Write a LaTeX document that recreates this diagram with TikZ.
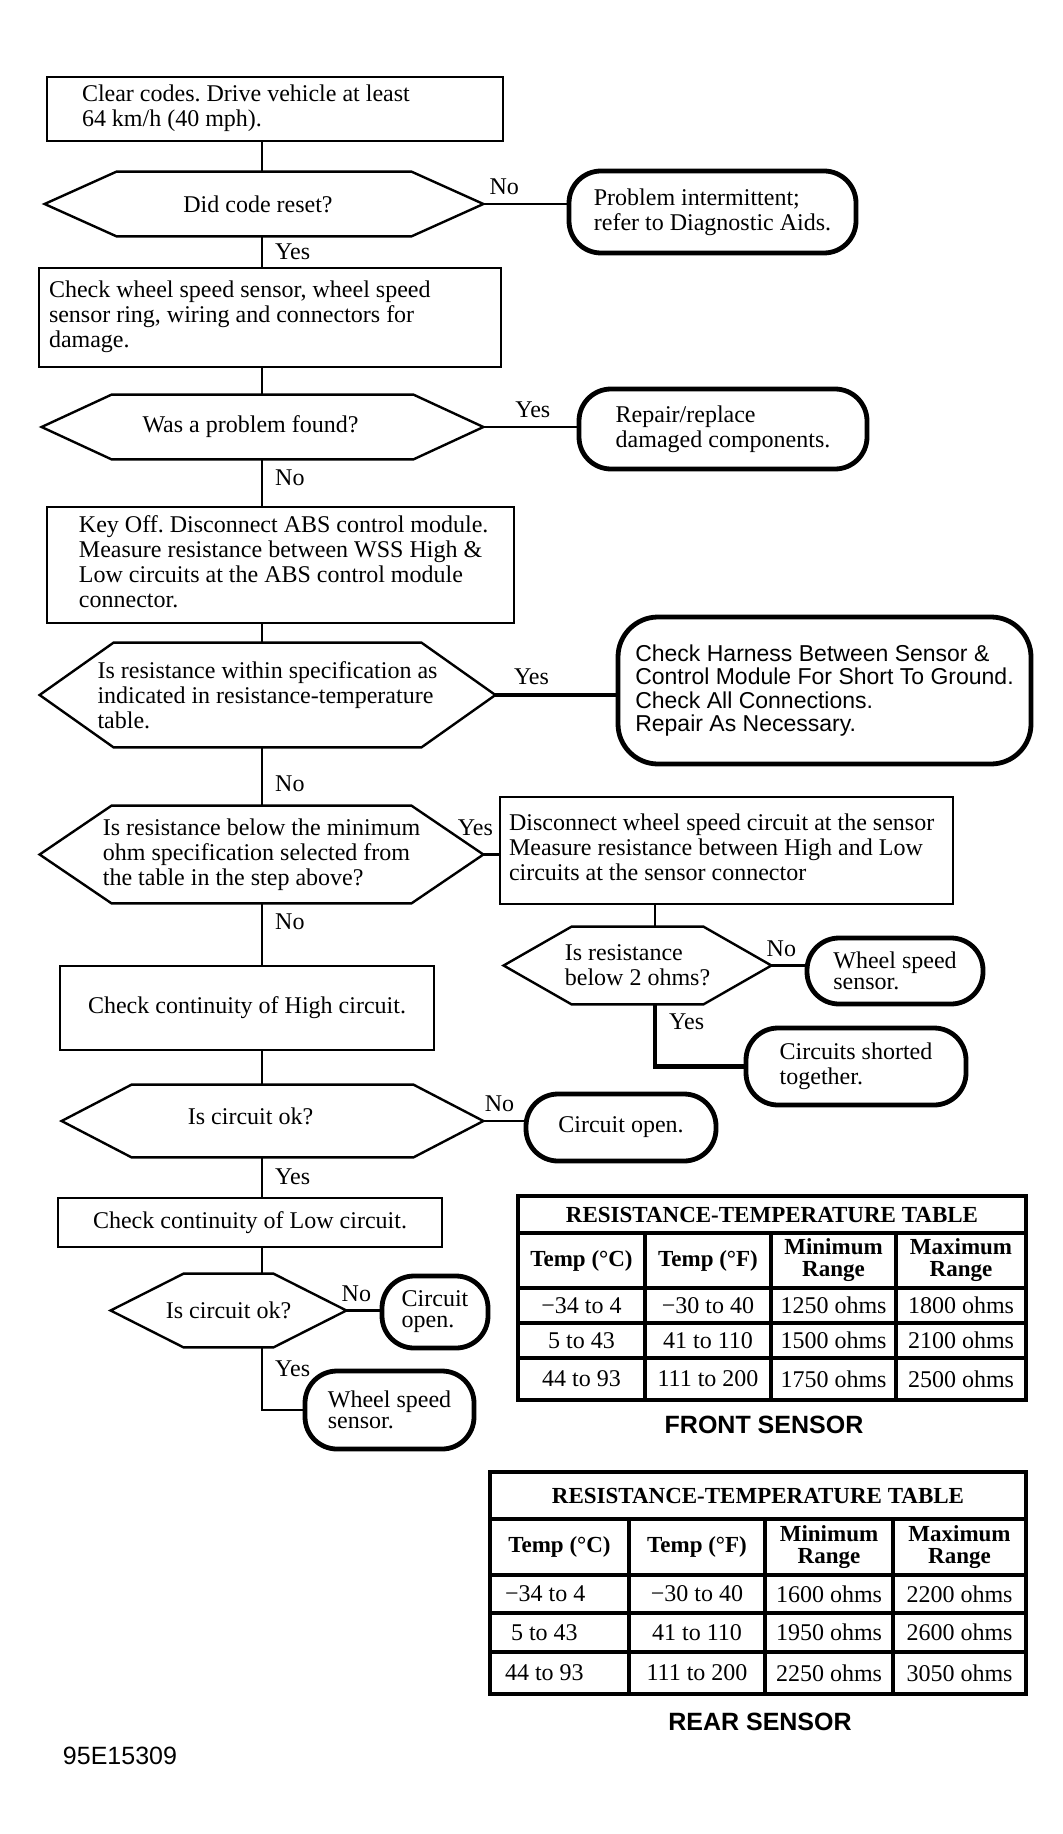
\documentclass[tikz,border=0pt]{standalone}
\usepackage{fontspec}
\setmainfont{Liberation Serif}
\setsansfont{Liberation Sans}
\frenchspacing
\newcommand{\flowfont}{\fontsize{12}{12.4}\selectfont}
\newcommand{\tightfont}{\fontsize{12}{10.5}\selectfont}
\newcommand{\boxlines}[3]{\makebox[#1][l]{\hspace*{#2}\begin{tabular}{@{}l@{}}#3\end{tabular}}}
\newcommand{\hexline}[2]{%
  \draw[hexedge] (#1.west) -- ([xshift=#2]#1.north west) -- ([xshift=-#2]#1.north east)
    -- (#1.east) -- ([xshift=-#2]#1.south east) -- ([xshift=#2]#1.south west) -- cycle;}
\tikzset{
  box/.style={draw, line width=1.2pt, inner xsep=3pt, inner ysep=0pt, font=\flowfont},
  decision/.style={inner sep=0pt, align=left, font=\flowfont},
  hexedge/.style={line width=1.2pt, line join=miter},
  term/.style={draw, line width=2.4pt, rounded corners=16pt, align=left, inner sep=0pt, font=\flowfont},
  link/.style={line width=1.2pt},
  heavy/.style={line width=2.2pt},
  lbl/.style={inner sep=1pt, font=\flowfont},
  tabline/.style={line width=1.6pt},
  tabtitle/.style={font=\bfseries\fontsize{11.5}{11.5}\selectfont},
  tabhead/.style={align=center, font=\bfseries\fontsize{11.5}{11}\selectfont},
  tabcell/.style={font=\flowfont},
  caption/.style={font=\sffamily\bfseries\fontsize{12.5}{12.5}\selectfont}
}

\begin{document}
\begin{tikzpicture}[x=0.5pt, y=-0.5pt]
\useasboundingbox (0,0) rectangle (1062,1834);

% main column
\node[box, minimum height=32pt] (clear) at (275,109) {\boxlines{222pt}{14.5pt}{Clear codes. Drive vehicle at least\\64 km/h (40 mph).}};
\node[decision, minimum width=219pt, minimum height=32pt] (reset) at (264,204) {Did code reset?\hspace*{6pt}};
\hexline{reset}{36pt}
\node[term, minimum width=143.5pt, minimum height=41pt] (intermit) at (712.5,212) {Problem intermittent;\\refer to Diagnostic Aids.};
\node[box, minimum height=49.5pt] (inspect) at (270,317.5) {\boxlines{225pt}{2pt}{Check wheel speed sensor, wheel speed\\sensor ring, wiring and connectors for\\damage.}};
\node[decision, minimum width=220.5pt, minimum height=32pt] (found) at (262.5,427) {Was a problem found?\hspace*{12pt}};
\hexline{found}{35pt}
\node[term, minimum width=144pt, minimum height=40pt] (repair) at (723,429) {Repair/replace\\damaged components.};
\node[box, minimum height=58pt] (measure) at (280.5,565) {\boxlines{227.5pt}{13pt}{Key Off. Disconnect ABS control module.\\Measure resistance between WSS High \&\\Low circuits at the ABS control module\\connector.}};
\node[decision, minimum width=227.5pt, minimum height=52pt] (within) at (267.5,695) {Is resistance within specification as\\indicated in resistance-temperature\\table.};
\hexline{within}{37pt}
\node[term, rounded corners=20pt, minimum width=206.5pt, minimum height=73.5pt, font=\sffamily\fontsize{11.5}{11.7}\selectfont] (harness) at (824.5,690.5) {Check Harness Between Sensor \&\\Control Module For Short To Ground.\\Check All Connections.\\Repair As Necessary.};
\node[decision, minimum width=221.5pt, minimum height=48.5pt] (below) at (261.5,854.5) {Is resistance below the minimum\\ohm specification selected from\\the table in the step above?};
\hexline{below}{36pt}
\node[box, minimum width=187pt, minimum height=42pt] (high) at (247,1008) {Check continuity of High circuit.};
\node[decision, minimum width=210.5pt, minimum height=36pt] (okhigh) at (272.5,1121) {\raisebox{5pt}{Is circuit ok?}\hspace*{22pt}};
\hexline{okhigh}{35pt}
\node[term, minimum width=95pt, minimum height=33.5pt] (openhigh) at (621,1127.5) {Circuit open.};
\node[box, minimum width=192pt, minimum height=24.5pt] (low) at (250,1222.5) {Check continuity of Low circuit.};
\node[decision, minimum width=117.5pt, minimum height=36.5pt] (oklow) at (228.5,1310.5) {Is circuit ok?};
\hexline{oklow}{36.5pt}
\node[term, minimum width=53pt, minimum height=36pt, font=\tightfont] (openlow) at (435,1312) {Circuit\\open.};
\node[term, minimum width=84.5pt, minimum height=39pt, font=\tightfont] (wsslow) at (389.5,1410) {Wheel speed\\sensor.};

% sensor branch
\node[box, minimum height=53.5pt] (disc) at (726.5,850.5) {\boxlines{220.5pt}{1.5pt}{Disconnect wheel speed circuit at the sensor\\Measure resistance between High and Low\\circuits at the sensor connector}};
\node[decision, minimum width=133.5pt, minimum height=38.5pt] (twohm) at (637.5,965.5) {Is resistance\\below 2 ohms?};
\hexline{twohm}{34pt}
\node[term, minimum width=88pt, minimum height=33pt, font=\tightfont] (wssup) at (895,971) {Wheel speed\\sensor.};
\node[term, minimum width=110pt, minimum height=38.5pt] (shorted) at (856,1066.5) {Circuits shorted\\together.};

% connectors
\coordinate (spine) at (262,0);
\coordinate (branch) at (655,0);
\draw[link] (clear.south -| spine) -- (reset.north -| spine);
\draw[link] (reset.east) -- node[lbl, above=3pt, pos=.25] (n1) {No} (reset.east -| intermit.west);
\draw[link] (reset.south -| spine) -- node[lbl, right=5pt] (y1) {Yes} (inspect.north -| spine);
\draw[link] (inspect.south -| spine) -- (found.north -| spine);
\draw[link] (found.east) -- node[lbl, above=3pt, pos=.53] (y2) {Yes} (found.east -| repair.west);
\draw[link] (found.south -| spine) -- node[lbl, right=5pt, pos=.4] (n2) {No} (measure.north -| spine);
\draw[link] (measure.south -| spine) -- (within.north -| spine);
\draw[heavy] (within.east) -- node[lbl, above=3pt, pos=.3] (y3) {Yes} (within.east -| harness.west);
\draw[link] (within.south -| spine) -- node[lbl, right=5pt, pos=.62] (n3) {No} (below.north -| spine);
\draw[link] (below.east) -- node[lbl, above=8pt, pos=0, xshift=-4pt] (y4) {Yes} (below.east -| disc.west);
\draw[link] (below.south -| spine) -- node[lbl, right=5pt, pos=.3] (n4) {No} (high.north -| spine);
\draw[link] (high.south -| spine) -- (okhigh.north -| spine);
\draw[link] (okhigh.east) -- node[lbl, above=3pt, pos=.4] (n5) {No} (okhigh.east -| openhigh.west);
\draw[link] (okhigh.south -| spine) -- node[lbl, right=5pt] (y5) {Yes} (low.north -| spine);
\draw[link] (low.south -| spine) -- (oklow.north -| spine);
\draw[link] (oklow.east) -- node[lbl, above=3pt, pos=.3] (n6) {No} (oklow.east -| openlow.west);
\draw[link] (oklow.south -| spine) |- node[lbl, right=5pt, pos=.17] (y6) {Yes} (wsslow.west);
\draw[link] (disc.south -| branch) -- (twohm.north -| branch);
\draw[link] (twohm.east) -- node[lbl, above=3pt, pos=.3] (n7) {No} (twohm.east -| wssup.west);
\draw[heavy] (twohm.south -| branch) |- node[lbl, right=5pt, pos=.14] (y7) {Yes} (shorted.west);

% front sensor table
\draw[tabline] (518,1196) rectangle (1026,1400);
\foreach \yy in {1233,1288,1323,1358} \draw[tabline] (518,\yy) -- (1026,\yy);
\foreach \xx in {645,771,896} \draw[tabline] (\xx,1233) -- (\xx,1400);
\node[tabtitle] (ftitle) at (772,1214.5) {RESISTANCE-TEMPERATURE TABLE};
\foreach \xx/\hd [count=\i] in {581.5/Temp (°C), 708/Temp (°F), 833.5/{Minimum\\Range}, 961/{Maximum\\Range}}
  \node[tabhead] (fh\i) at (\xx,1260.5) {\hd};
\foreach \xx/\a/\b/\c [count=\i] in {581.5/−34 to 4/5 to 43/44 to 93, 708/−30 to 40/41 to 110/111 to 200, 833.5/1250 ohms/1500 ohms/1750 ohms, 961/1800 ohms/2100 ohms/2500 ohms}{
  \node[tabcell] (fa\i) at (\xx,1305.5) {\a};
  \node[tabcell] (fb\i) at (\xx,1340.5) {\b};
  \node[tabcell] (fc\i) at (\xx,1379) {\c};
}
\node[caption] (front) at (764,1425) {FRONT SENSOR};

% rear sensor table
\draw[tabline] (490,1472) rectangle (1026,1694);
\foreach \yy in {1519,1575,1613,1652} \draw[tabline] (490,\yy) -- (1026,\yy);
\foreach \xx in {629,765,893} \draw[tabline] (\xx,1519) -- (\xx,1694);
\node[tabtitle] (rtitle) at (758,1495.5) {RESISTANCE-TEMPERATURE TABLE};
\foreach \xx/\hd [count=\i] in {559.5/Temp (°C), 697/Temp (°F), 829/{Minimum\\Range}, 959.5/{Maximum\\Range}}
  \node[tabhead] (rh\i) at (\xx,1547) {\hd};
\node[tabcell, anchor=west] (ra0) at (498,1594) {−34 to 4};
\node[tabcell, anchor=west] (rb0) at (504,1632.5) {5 to 43};
\node[tabcell, anchor=west] (rc0) at (498,1673) {44 to 93};
\foreach \xx/\a/\b/\c [count=\i] in {697/−30 to 40/41 to 110/111 to 200, 829/1600 ohms/1950 ohms/2250 ohms, 959.5/2200 ohms/2600 ohms/3050 ohms}{
  \node[tabcell] (ra\i) at (\xx,1594) {\a};
  \node[tabcell] (rb\i) at (\xx,1632.5) {\b};
  \node[tabcell] (rc\i) at (\xx,1673) {\c};
}
\node[caption] (rear) at (760,1722) {REAR SENSOR};

\node[font=\sffamily\fontsize{12.5}{12.5}\selectfont] (figno) at (120,1756) {95E15309};
\end{tikzpicture}
\end{document}
